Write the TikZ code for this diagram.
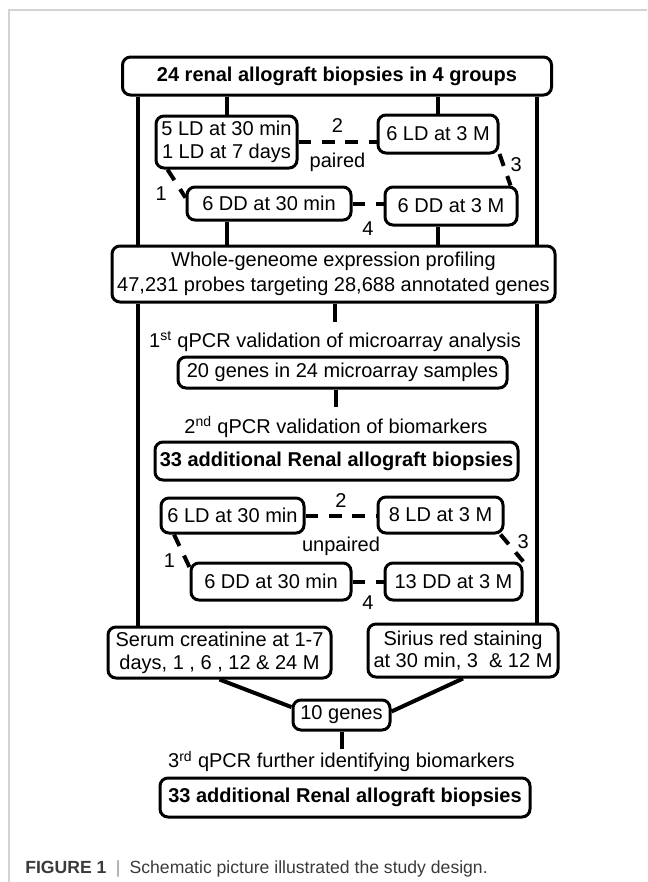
\documentclass[tikz,border=0pt]{standalone}
\usepackage{fontspec}
\setmainfont{Liberation Sans}
\definecolor{Frame}{RGB}{211,211,211}
\definecolor{CapInk}{RGB}{58,58,58}
\definecolor{CapBar}{RGB}{150,150,150}

\begin{document}
\begin{tikzpicture}[
  x=0.75pt, y=-0.75pt,
  font=\fontsize{15}{17}\selectfont,
  stage/.style={draw, line width=2.25pt, rounded corners=6pt, fill=white,
    inner sep=0pt, align=center},
  boldstage/.style={stage, font=\fontsize{15}{17}\selectfont\bfseries},
  qlabel/.style={inner sep=0pt},
  num/.style={inner sep=1pt},
  link/.style={line width=3pt},
  pairlink/.style={link, dash pattern=on 9.5pt off 8pt}
]
  \useasboundingbox (0,0) rectangle (647,882);
  \draw[Frame, line width=1.5pt] (9,882) -- (9,10) -- (647,10);

  % first cohort
  \node[boldstage, minimum width=321.75pt, minimum height=28.5pt] (top) at (337,76)
    {24 renal allograft biopsies in 4 groups};
  \node[stage, minimum width=105.75pt, minimum height=39pt] (ld30) at (226.5,142)
    {5 LD at 30 min\\1 LD at 7 days};
  \node[stage, minimum width=90pt, minimum height=28.5pt] (ld3) at (438,134) {6 LD at 3 M};
  \node[stage, minimum width=123pt, minimum height=24.75pt] (dd30) at (269,203.5) {6 DD at 30 min};
  \node[stage, minimum width=99pt, minimum height=28.5pt] (dd3) at (451,206) {6 DD at 3 M};

  % profiling and first validation
  \node[stage, minimum width=332.25pt, minimum height=42pt] (wg) at (333.5,274)
    {Whole-geneome expression profiling\\[1.75pt]
     47,231 probes targeting 28,688 annotated genes};
  \node[qlabel] (q1) at (335,342) {1\textsuperscript{st} qPCR validation of microarray analysis};
  \node[stage, minimum width=246.75pt, minimum height=23.25pt] (g20) at (342.5,372.5)
    {20 genes in 24 microarray samples};
  \node[qlabel] (q2) at (336,427) {2\textsuperscript{nd} qPCR validation of biomarkers};
  \node[boldstage, minimum width=272.25pt, minimum height=28.5pt] (add1) at (336.5,461)
    {33 additional Renal allograft biopsies};

  % second cohort
  \node[stage, minimum width=107.25pt, minimum height=26.25pt] (uld30) at (232.5,515.5) {6 LD at 30 min};
  \node[stage, minimum width=93.75pt, minimum height=27pt] (uld3) at (440.5,515) {8 LD at 3 M};
  \node[stage, minimum width=120pt, minimum height=27.75pt] (udd30) at (271,581.5) {6 DD at 30 min};
  \node[stage, minimum width=102.75pt, minimum height=27.75pt] (udd3) at (453.5,581.5) {13 DD at 3 M};

  % outcomes and last validation
  \node[stage, minimum width=167.25pt, minimum height=38.25pt] (serum) at (219.5,652.5)
    {Serum creatinine at 1-7\\days, 1 , 6 , 12 \& 24 M};
  \node[stage, minimum width=142.5pt, minimum height=39.75pt] (sirius) at (463,650.5)
    {Sirius red staining\\at 30 min, 3\ \ \& 12 M};
  \node[stage, minimum width=72.75pt, minimum height=22.5pt] (g10) at (341.5,715) {10 genes};
  \node[qlabel] (q3) at (341.5,761.5) {3\textsuperscript{rd} qPCR further identifying biomarkers};
  \node[boldstage, minimum width=277.5pt, minimum height=29.25pt] (add2) at (345,797.5)
    {33 additional Renal allograft biopsies};

  \node[anchor=west, inner sep=0pt, text=CapInk, font=\fontsize{13.2}{15}\selectfont] (caption) at (25,869)
    {\textbf{FIGURE 1}\hspace{7pt}\textcolor{CapBar}{|}\hspace{7pt}Schematic picture illustrated the study design.};

  % trunk lines
  \coordinate (lx) at (138,0);
  \coordinate (rx) at (537,0);
  \draw[link] (top.south -| lx) -- (wg.north -| lx);
  \draw[link] (wg.south -| lx) -- (serum.north -| lx);
  \draw[link] (top.south -| rx) -- (wg.north -| rx);
  \draw[link] (wg.south -| rx) -- (sirius.north -| rx);

  \draw[link] (top.south -| ld30.north) -- (ld30.north);
  \draw[link] (top.south -| ld3.north) -- (ld3.north);
  \draw[link] (dd30.south -| ld30.north) -- (wg.north -| ld30.north);
  \draw[link] (dd3.south -| ld3.north) -- (wg.north -| ld3.north);

  % paired comparisons
  \draw[pairlink] (ld30.205) -- (dd30.176) node[num, pos=0.85, left=9.5pt] (p1) {1};
  \draw[pairlink] (ld30.east) -- (ld30.east -| ld3.west)
    node[num, midway, above=5pt] (p2) {2}
    node[num, midway, below=5.5pt] (paired) {paired};
  \draw[pairlink] (ld3.342) -- (dd3.19) node[num, pos=0.35, right=3pt] (p3) {3};
  \draw[pairlink] (dd30.east) -- (dd30.east -| dd3.west) node[num, midway, below=11pt] (p4) {4};

  % unpaired comparisons
  \draw[pairlink] (uld30.198) -- (udd30.170) node[num, pos=0.8, left=6pt] (u1) {1};
  \draw[pairlink] (uld30.east) -- (uld30.east -| uld3.west)
    node[num, midway, above=3.75pt] (u2) {2}
    node[num, midway, below=13.75pt] (unpaired) {unpaired};
  \draw[pairlink] (uld3.342) -- (udd3.16) node[num, pos=0.25, right=6pt] (u3) {3};
  \draw[pairlink] (udd30.east) -- (udd30.east -| udd3.west) node[num, midway, below=8.25pt] (u4) {4};

  % validation chain
  \draw[link, shorten >=7.2pt] (wg.south -| q1.north) -- (q1.north);
  \draw[link, shorten >=7.2pt] (g20.south -| q2.north) -- (q2.north);
  \draw[link] (serum.south) -- (g10.171);
  \draw[link] (sirius.south) -- (g10.4);
  \draw[link, shorten >=1.5pt] (g10.south) -- (g10.south |- q3.north);
\end{tikzpicture}
\end{document}
